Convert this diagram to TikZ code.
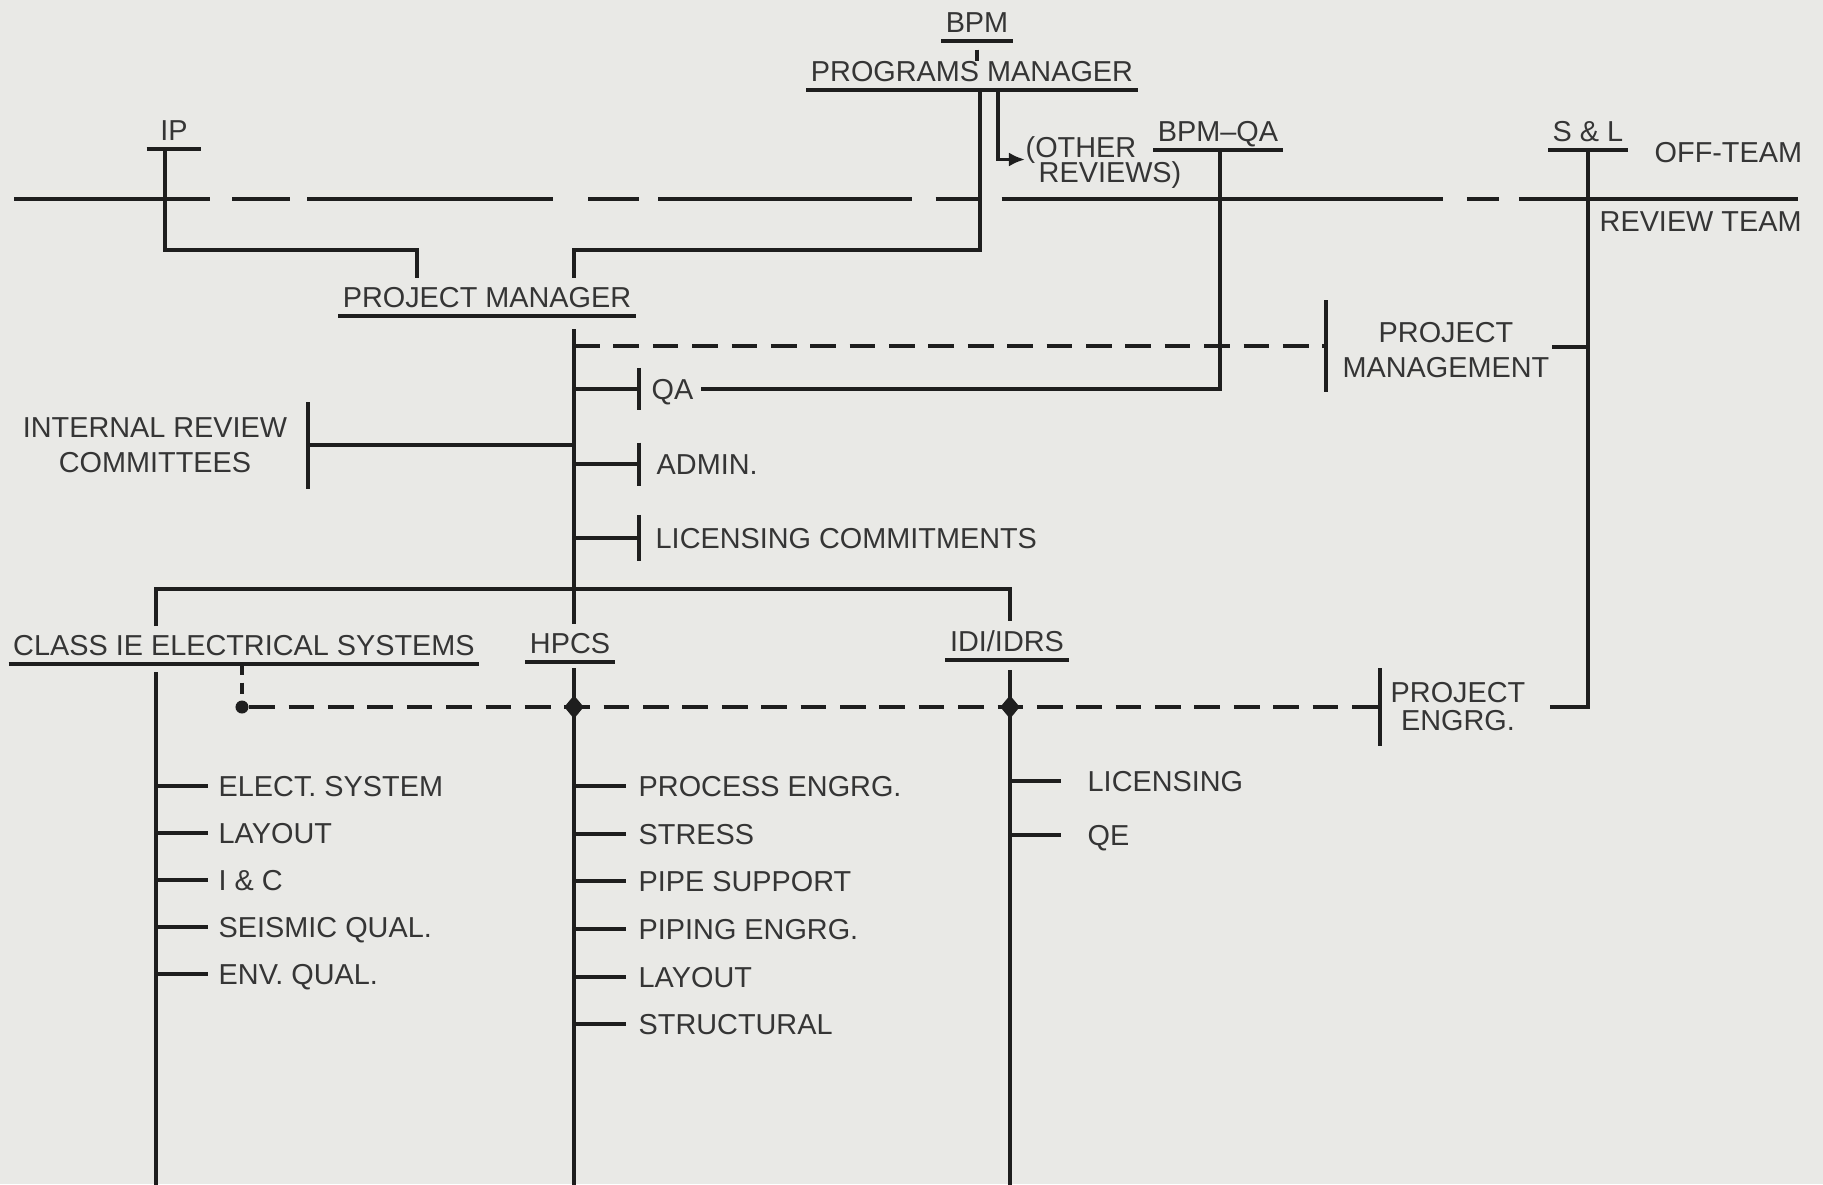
\documentclass[tikz,border=0pt]{standalone}
\usepackage{fontspec}
\setmainfont{Liberation Sans}
\usetikzlibrary{arrows.meta,shapes.geometric}
\definecolor{paper}{RGB}{233,233,230}
\definecolor{ink}{RGB}{30,30,30}

\begin{document}
\begin{tikzpicture}[x=0.01cm, y=-0.01cm,
  lbl/.style={inner sep=0pt, text depth=0pt, text=ink!90, font=\fontsize{8.2}{9.7}\selectfont},
  ttl/.style={lbl, anchor=base, inner xsep=0.04cm, inner ysep=0.08cm,
    append after command={(\tikzlastnode.south west) edge[ln] (\tikzlastnode.south east)}},
  ln/.style={draw=ink, line width=1.1pt},
  dsh/.style={ln, dash pattern=on 7.3pt off 3.9pt},
  arr/.style={ln, -{Latex[length=1.6mm, width=1.4mm]}},
  dia/.style={diamond, fill=ink, inner sep=0pt, minimum width=0.2cm, minimum height=0.24cm},
  jdot/.style={circle, fill=ink, inner sep=0pt, minimum size=0.13cm}
]
\fill[paper] (0,0) rectangle (1823,1184);
\useasboundingbox (0,0) rectangle (1823,1184);

% off-team / review team boundary
\draw[ln, dash pattern=on 1.96cm off 0.22cm on 0.58cm off 0.17cm on 2.46cm off 0.35cm
  on 0.51cm off 0.19cm on 2.53cm off 0.24cm on 0.44cm off 0.22cm on 4.41cm off 0.24cm
  on 0.32cm off 0.2cm on 2.8cm off 1cm] (14,199) -- (1798,199);

% titles
\node[ttl] (bpm) at (977,32) {BPM};
\node[ttl] (pgm) at (972,81) {PROGRAMS MANAGER};
\node[ttl, inner xsep=0.13cm] (ip) at (174,140) {IP};
\node[ttl] (bpmqa) at (1218,141) {BPM--QA};
\node[ttl] (sl) at (1588,141) {S \& L};
\node[ttl] (pm) at (487,307) {PROJECT MANAGER};
\node[ttl] (cls) at (244,655) {CLASS IE ELECTRICAL SYSTEMS};
\node[ttl] (hpcs) at (570,653) {HPCS};
\node[ttl] (idi) at (1007,651) {IDI/IDRS};

% plain labels (multi-line ones sit on their last baseline)
\node[lbl, anchor=base west] (offt) at (1654,162) {OFF-TEAM};
\node[lbl, anchor=base west] (revt) at (1599,231) {REVIEW TEAM};
\node[lbl, anchor=base west, align=left] (other) at (1025,182) {(OTHER\\[-0.1cm]\hspace*{0.13cm}REVIEWS)};
\node[lbl, anchor=base, align=center] (pmg) at (1446,377) {PROJECT\\MANAGEMENT};
\node[lbl, anchor=base, align=center] (peng) at (1458,730) {PROJECT\\[-0.07cm]ENGRG.};
\node[lbl, anchor=base, align=center] (irc) at (155,472) {INTERNAL REVIEW\\COMMITTEES};
\node[lbl, anchor=base west] (qa) at (651,399) {QA};
\node[lbl, anchor=base west] (admin) at (656,474) {ADMIN.};
\node[lbl, anchor=base west] (lic) at (655,548) {LICENSING COMMITMENTS};

% junction points
\coordinate (jn) at (0,250);
\coordinate (pmL) at (417,278);
\coordinate (pmR) at (574,278);
\coordinate (spine) at (574,329);
\coordinate (bus) at (574,589);
\coordinate (colL) at (156,672);
\coordinate (colM) at (574,668);
\coordinate (colR) at (1010,670);
\coordinate (bot) at (0,1190);
\coordinate (pmbar) at (1328,346);
\coordinate (pebar) at (1382,707);
\coordinate (slm) at (1552,347);
\coordinate (slb) at (1550,707);

% upper connectors
\draw[ln] ([yshift=-0.09cm]bpm.south) -- ++(0,11);
\draw[ln] ([xshift=-0.09cm]ip.south) |- (jn -| pmL) -- (pmL);
\draw[ln] ([xshift=0.08cm]pgm.south) |- (jn -| pmR) -- (pmR);
\draw[arr] ([xshift=0.26cm]pgm.south) |- (other.west);
\draw[ln] ([xshift=0.02cm]bpmqa.south) |- ([xshift=0.07cm]qa.east);
\draw[ln] (sl.south) |- (slb);
\draw[ln] (slm) -- (slm -| sl.south);

% project manager staff
\draw[ln] (spine) -- (spine |- hpcs.north);
\draw[dsh, -{Bar[width=0.91cm]}] (spine |- pmbar) -- (pmbar);
\draw[ln, -{Bar[width=0.42cm]}] (spine |- qa.west) -- ([xshift=-0.1cm]qa.west);
\draw[ln, -{Bar[width=0.43cm]}] (spine |- admin.west) -- ([xshift=-0.15cm]admin.west);
\draw[ln, -{Bar[width=0.46cm]}] (spine |- lic.west) -- ([xshift=-0.14cm]lic.west);
\draw[ln, {Bar[width=0.87cm]}-] ([xshift=0.18cm]irc.east) -- (irc.east -| spine);

% system groups
\draw[ln] (colL |- cls.north) |- (bus) -| (colR |- idi.north);
\foreach \c in {colL,colM,colR}
  \draw[ln] (\c) -- (\c |- bot);
\node[jdot] (dt) at (242,707) {};
\draw[ln, dash pattern=on 3.1pt off 2.3pt] (cls.south -| dt) -- (dt);
\draw[dsh, -{Bar[width=0.77cm]}] (dt) -- (pebar);
\node[dia] (d1) at (colM |- dt) {};
\node[dia] (d2) at (colR |- dt) {};

% disciplines
\foreach \y/\t [count=\i] in {796/ELECT. SYSTEM, 843/LAYOUT, 890/I \& C, 937/SEISMIC QUAL., 984/ENV. QUAL.}{
  \node[lbl, anchor=base west] (el\i) at (218,\y) {\t};
  \draw[ln, shorten >=0.1cm] (el\i.west -| colL) -- (el\i.west);
}
\foreach \y/\t [count=\i] in {796/PROCESS ENGRG., 844/STRESS, 891/PIPE SUPPORT, 939/PIPING ENGRG., 987/LAYOUT, 1034/STRUCTURAL}{
  \node[lbl, anchor=base west] (hp\i) at (638,\y) {\t};
  \draw[ln, shorten >=0.12cm] (hp\i.west -| colM) -- (hp\i.west);
}
\foreach \y/\t [count=\i] in {791/LICENSING, 845/QE}{
  \node[lbl, anchor=base west] (id\i) at (1087,\y) {\t};
  \draw[ln, shorten >=0.26cm] (id\i.west -| colR) -- (id\i.west);
}
\end{tikzpicture}
\end{document}
